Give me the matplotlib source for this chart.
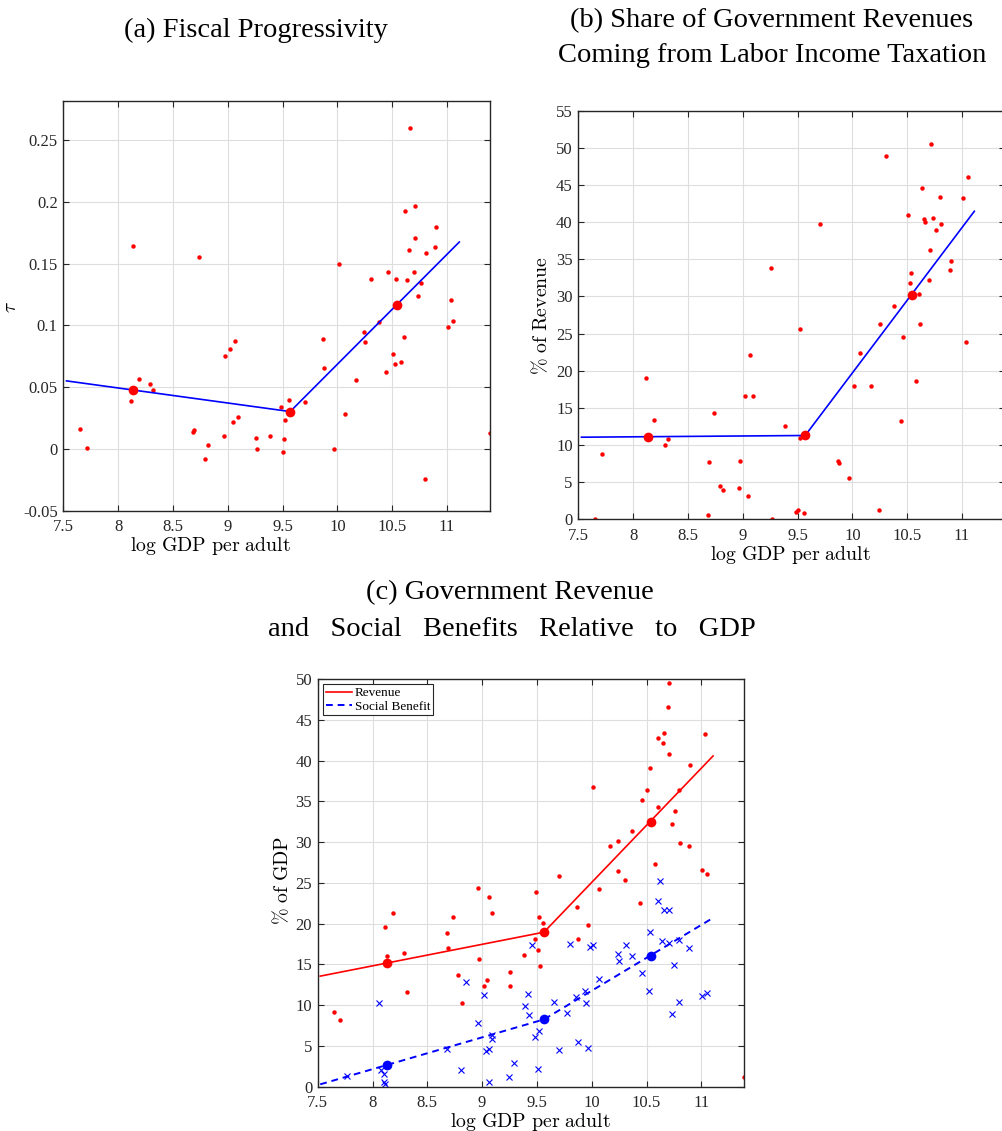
import numpy as np
import matplotlib
matplotlib.use('Agg')
import matplotlib.pyplot as plt

plt.rcParams['font.family'] = ['Liberation Serif', 'DejaVu Serif']
plt.rcParams['mathtext.fontset'] = 'cm'

# ---- panel (a): fiscal progressivity
a_x = [7.654, 7.715, 8.134, 8.121, 8.194, 8.295, 8.322, 8.738, 8.683, 8.695,
       8.823, 8.790, 8.969, 8.978, 9.017, 9.069, 9.048, 9.096, 9.254, 9.263,
       9.385, 9.485, 9.561, 9.524, 9.512, 9.500, 9.707, 9.871, 9.880, 9.971,
       10.019, 10.074, 10.174, 10.247, 10.253, 10.305, 10.378, 10.463, 10.445, 10.508,
       10.530, 10.584, 10.612, 10.536, 10.615, 10.654, 10.633, 10.666, 10.712, 10.709,
       10.700, 10.763, 10.739, 10.806, 10.803, 10.891, 10.903, 11.040, 11.055, 11.012,
       11.39]
a_tau = [0.0159, 0.0008, 0.164, 0.0388, 0.0568, 0.053, 0.048, 0.1556, 0.0135, 0.0151,
         0.0032, -0.0081, 0.011, 0.0751, 0.0813, 0.0872, 0.0218, 0.0258, 0.0092, 0.0005,
         0.011, 0.0337, 0.0396, 0.0234, 0.0081, -0.0027, 0.0385, 0.0889, 0.0657, 0.0005,
         0.150, 0.0288, 0.056, 0.0948, 0.0867, 0.1379, 0.1026, 0.143, 0.0627, 0.077,
         0.0689, 0.0705, 0.0905, 0.1373, 0.1928, 0.1613, 0.1365, 0.2598, 0.1968, 0.171,
         0.1432, 0.1344, 0.1236, 0.1583, -0.0242, 0.1637, 0.1796, 0.1204, 0.1039, 0.0991,
         0.013]
a_big_x = [8.137, 9.570, 10.545]
a_big_y = [0.0477, 0.0304, 0.1163]
a_fit_x = [7.529, 9.570, 11.113]
a_fit_y = [0.0552, 0.0304, 0.1675]

# ---- panel (b): labor income tax share of revenue
b_x = [7.654, 7.715, 8.121, 8.194, 8.295, 8.322, 8.683, 8.695, 8.738, 8.790,
       8.823, 8.969, 8.978, 9.017, 9.096, 9.069, 9.048, 9.254, 9.263, 9.385,
       9.488, 9.500, 9.521, 9.527, 9.561, 9.707, 9.871, 9.880, 9.971, 10.019,
       10.074, 10.174, 10.247, 10.253, 10.308, 10.378, 10.445, 10.463, 10.508, 10.530,
       10.536, 10.584, 10.612, 10.618, 10.633, 10.654, 10.666, 10.700, 10.709, 10.715,
       10.739, 10.763, 10.803, 10.806, 10.891, 10.903, 11.012, 11.040, 11.058]
b_share = [0.1, 8.8, 19.0, 13.4, 10.06, 10.87, 0.58, 7.77, 14.29, 4.49,
           3.95, 4.27, 7.91, 16.58, 16.58, 22.06, 3.19, 33.78, 0.09, 12.58,
           1.03, 1.3, 25.65, 10.9, 0.85, 39.76, 7.86, 7.64, 5.57, 18.01,
           22.37, 18.01, 1.21, 26.33, 48.92, 28.75, 13.25, 24.57, 41.02, 31.85,
           33.15, 18.55, 30.28, 26.33, 44.65, 40.48, 40.03, 32.21, 36.25, 50.54,
           40.52, 38.99, 43.35, 39.71, 33.51, 34.82, 43.22, 23.81, 46.14]
b_big_x = [8.137, 9.570, 10.545]
b_big_y = [11.1, 11.28, 30.23]
b_fit_x = [7.529, 9.570, 11.113]
b_fit_y = [11.05, 11.28, 41.46]

# ---- panel (c): revenue and social benefits, % of GDP
rev_x = [7.648, 7.708, 8.115, 8.188, 8.131, 8.288, 8.316, 8.680, 8.692, 8.735,
         8.783, 8.820, 8.966, 8.975, 9.014, 9.042, 9.063, 9.090, 9.257, 9.251,
         9.379, 9.494, 9.479, 9.515, 9.555, 9.506, 9.524, 9.701, 9.868, 9.874,
         9.968, 10.013, 10.068, 10.171, 10.241, 10.244, 10.302, 10.372, 10.442, 10.460,
         10.502, 10.530, 10.578, 10.609, 10.609, 10.648, 10.660, 10.694, 10.709, 10.706,
         10.730, 10.757, 10.800, 10.803, 10.885, 10.897, 11.006, 11.049, 11.034, 11.39]
rev_y = [9.15, 8.17, 19.61, 21.32, 16.09, 16.38, 11.56, 18.87, 16.95, 20.79,
         13.73, 10.29, 24.39, 15.69, 12.38, 13.07, 23.28, 21.36, 14.05, 12.34,
         16.14, 23.82, 18.06, 20.79, 20.06, 16.71, 14.79, 25.90, 22.06, 18.10,
         19.89, 36.76, 24.22, 29.49, 26.43, 30.19, 25.29, 31.33, 22.51, 35.17,
         36.40, 39.09, 27.29, 34.27, 42.77, 42.12, 43.38, 46.53, 49.51, 40.81,
         32.27, 33.78, 36.36, 29.90, 29.53, 39.46, 26.55, 26.06, 43.22, 1.18]
ben_x = [7.763, 8.058, 8.076, 8.109, 8.103, 8.112, 8.677, 8.808, 8.856, 8.966,
         9.014, 9.036, 9.060, 9.087, 9.090, 9.060, 9.245, 9.291, 9.388, 9.421,
         9.430, 9.458, 9.479, 9.515, 9.506, 9.652, 9.701, 9.770, 9.798, 9.858,
         9.874, 9.940, 9.944, 9.968, 9.983, 10.010, 10.068, 10.244, 10.250, 10.311,
         10.372, 10.457, 10.527, 10.530, 10.606, 10.627, 10.642, 10.657, 10.703, 10.709,
         10.733, 10.754, 10.794, 10.800, 10.885, 11.006, 11.049]
ben_y = [1.35, 10.25, 2.04, 1.55, 0.53, 0.29, 4.66, 2.08, 12.87, 7.80,
         11.23, 4.33, 4.58, 5.88, 6.29, 0.57, 1.14, 2.86, 9.84, 11.40,
         8.82, 17.32, 6.09, 6.82, 2.12, 10.33, 4.53, 9.07, 17.44, 11.03,
         5.43, 11.76, 10.25, 4.78, 17.12, 17.40, 13.24, 16.22, 15.40, 17.40,
         16.05, 13.93, 11.68, 19.00, 22.75, 25.25, 17.81, 21.69, 21.65, 17.61,
         8.91, 14.87, 17.97, 10.38, 17.03, 11.07, 11.44]
rev_big_x = [8.134, 9.564, 10.539]
rev_big_y = [15.11, 18.95, 32.48]
rev_fit_x = [7.523, 9.564, 11.107]
rev_fit_y = [13.56, 18.95, 40.56]
ben_big_x = [8.131, 9.564, 10.539]
ben_big_y = [2.66, 8.25, 16.05]
ben_fit_x = [7.523, 9.564, 11.088]
ben_fit_y = [0.29, 8.25, 20.55]

xticks = [7.5, 8, 8.5, 9, 9.5, 10, 10.5, 11]
xticklabels = ['7.5', '8', '8.5', '9', '9.5', '10', '10.5', '11']
xlab = r'$\mathrm{log\ GDP\ per\ adult}$'

W, H = 1002, 1131
fig = plt.figure(figsize=(W / 100, H / 100), dpi=100)


def box(l, t, r, b):
    return [l / W, 1 - b / H, (r - l) / W, (b - t) / H]


def style(ax):
    ax.set_xlim(7.5, 11.393)
    ax.set_xticks(xticks)
    ax.set_xticklabels(xticklabels)
    ax.grid(True, color='#dedede', lw=0.8)
    ax.set_axisbelow(True)
    ax.tick_params(direction='in', top=True, right=True, length=4, width=0.8,
                   labelsize=12, color='#262626', labelcolor='#262626', pad=4)
    ax.tick_params(axis='x', pad=6)
    for s in ax.spines.values():
        s.set_color('#262626')
        s.set_linewidth(1.0)


dot = dict(ls='none', marker='o', ms=3.2, color='red', mec='none')
big = dict(ls='none', marker='o', ms=7, mec='none')
tfs = 20.5
lfs = 14.3

# (a)
ax = fig.add_axes(box(63.3, 101, 490, 511))
ax.plot(a_x, a_tau, **dot)
ax.plot(a_fit_x, a_fit_y, color='blue', lw=1.2)
ax.plot(a_big_x, a_big_y, color='red', **big)
style(ax)
ax.set_ylim(-0.05, 0.2815)
ax.set_yticks([-0.05, 0, 0.05, 0.1, 0.15, 0.2, 0.25])
ax.set_yticklabels(['-0.05', '0', '0.05', '0.1', '0.15', '0.2', '0.25'])
fig.text(256 / W, 1 - 30 / H, '(a) Fiscal Progressivity', ha='center', va='center', fontsize=tfs)
fig.text(12 / W, 1 - 307 / H, r'$\tau$', ha='center', va='center', rotation=90, fontsize=14)
fig.text(210 / W, 1 - 551 / H, xlab, ha='center', va='baseline', fontsize=lfs)

# (b)
ax = fig.add_axes(box(578.3, 110.7, 1005, 519.3))
ax.plot(b_x, b_share, **dot)
ax.plot(b_fit_x, b_fit_y, color='blue', lw=1.2)
ax.plot(b_big_x, b_big_y, color='red', **big)
style(ax)
ax.set_ylim(0, 55)
ax.set_yticks(range(0, 56, 5))
fig.text(772 / W, 1 - 21 / H, '(b) Share of Government Revenues', ha='center', va='center', fontsize=tfs)
fig.text(772 / W, 1 - 56 / H, 'Coming from Labor Income Taxation', ha='center', va='center', fontsize=tfs)
fig.text(542 / W, 1 - 315 / H, r'$\mathrm{\%\ of\ Revenue}$', ha='center', va='center', rotation=90, fontsize=lfs)
fig.text(790 / W, 1 - 560 / H, xlab, ha='center', va='baseline', fontsize=lfs)

# (c)
ax = fig.add_axes(box(317.7, 679, 744.4, 1086.7))
ax.plot(rev_x, rev_y, **dot)
ax.plot(ben_x, ben_y, ls='none', marker='x', ms=4.2, mew=0.8, color='blue')
ax.plot(rev_fit_x, rev_fit_y, color='red', lw=1.2, label='Revenue')
ax.plot(ben_fit_x, ben_fit_y, color='blue', lw=1.4, ls=(0, (3.5, 2.5)), label='Social Benefit')
ax.plot(rev_big_x, rev_big_y, color='red', **big)
ax.plot(ben_big_x, ben_big_y, color='blue', **big)
style(ax)
ax.set_ylim(0, 50)
ax.set_yticks(range(0, 51, 5))
leg = ax.legend(loc='upper left', fontsize=9.5, handlelength=2.0, handletextpad=0.2,
                borderpad=0.2, labelspacing=0.1, fancybox=False, framealpha=1,
                edgecolor='#262626', borderaxespad=0.4)
leg.get_frame().set_linewidth(0.8)
fig.text(510 / W, 1 - 593 / H, '(c) Government Revenue', ha='center', va='center', fontsize=tfs)
fig.text(512 / W, 1 - 630 / H, 'and   Social   Benefits   Relative   to   GDP', ha='center', va='center', fontsize=tfs)
fig.text(283 / W, 1 - 880 / H, r'$\mathrm{\%\ of\ GDP}$', ha='center', va='center', rotation=90, fontsize=lfs)
fig.text(530 / W, 1 - 1127 / H, xlab, ha='center', va='baseline', fontsize=lfs)

fig.savefig('out.png', dpi=100)
